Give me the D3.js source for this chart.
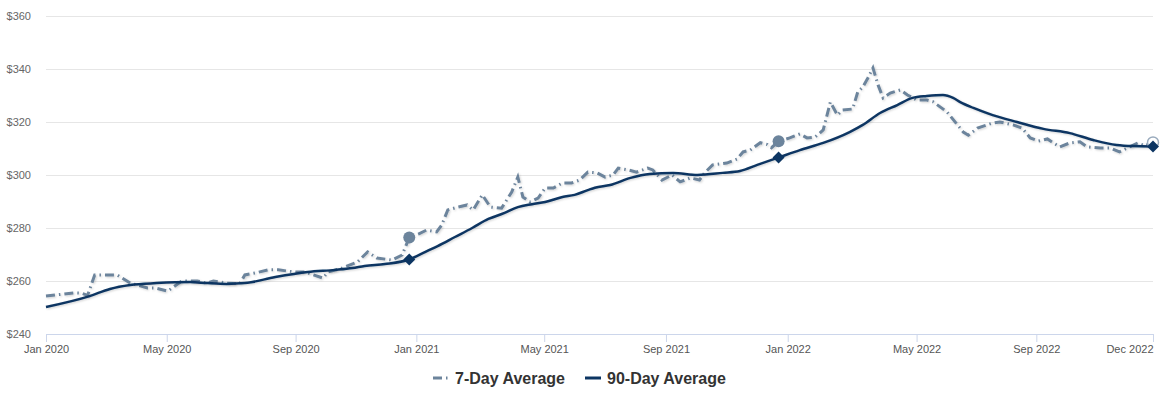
<!DOCTYPE html>
<html>
<head>
<meta charset="utf-8">
<script src="https://cdn.jsdelivr.net/npm/d3@7"></script>
<style>
  body { margin: 0; background: #fff; }
  svg { display: block; font-family: "Liberation Sans", Arial, sans-serif; }
</style>
</head>
<body>
<div id="chart"></div>
<script>
// 7-day average (weekly-ish readings)
var dates7 = ["2020-01-01","2020-01-28","2020-02-05","2020-02-11","2020-02-18","2020-03-11","2020-03-24","2020-04-10",
  "2020-04-17","2020-04-30","2020-05-14","2020-05-29","2020-06-08","2020-06-14","2020-06-27","2020-07-10","2020-07-15",
  "2020-07-25","2020-08-07","2020-08-17","2020-09-02","2020-09-12","2020-09-30","2020-10-05","2020-10-19","2020-11-03",
  "2020-11-13","2020-11-22","2020-12-07","2020-12-17","2020-12-24","2021-01-02","2021-01-10","2021-01-20","2021-01-25",
  "2021-01-31","2021-02-10","2021-02-19","2021-02-25","2021-03-06","2021-03-14","2021-03-25","2021-04-04","2021-04-10",
  "2021-04-15","2021-04-22","2021-04-30","2021-05-07","2021-05-15","2021-05-24","2021-06-02","2021-06-10","2021-06-18",
  "2021-06-27","2021-07-05","2021-07-13","2021-07-18","2021-07-28","2021-08-05","2021-08-16","2021-08-21","2021-08-30",
  "2021-09-09","2021-09-17","2021-09-27","2021-10-06","2021-10-11","2021-10-19","2021-11-02","2021-11-12","2021-11-18",
  "2021-11-25","2021-12-05","2021-12-12","2021-12-16","2021-12-23","2022-01-03","2022-01-13","2022-01-20","2022-01-28",
  "2022-02-05","2022-02-12","2022-02-19","2022-02-24","2022-03-06","2022-03-11","2022-03-16","2022-03-21","2022-03-26",
  "2022-03-31","2022-04-05","2022-04-12","2022-04-22","2022-04-29","2022-05-08","2022-05-18","2022-05-24","2022-06-07",
  "2022-06-23","2022-06-28","2022-07-07","2022-07-22","2022-07-29","2022-08-11","2022-08-20","2022-08-28","2022-09-05",
  "2022-09-14","2022-09-26","2022-10-06","2022-10-16","2022-10-23","2022-11-05","2022-11-15","2022-11-24","2022-12-04",
  "2022-12-12","2022-12-19","2022-12-27"];
var avg7 = [254.3,255.5,255.4,254.6,262.3,262.3,259.2,257.4,
  257.4,256.2,260.0,260.0,259.2,260.0,259.2,259.0,262.3,
  263.0,264.2,264.2,263.4,263.4,261.1,263.4,264.9,267.2,
  271.0,268.7,267.9,269.8,276.4,277.7,279.2,278.5,281.1,
  286.8,287.9,288.7,286.8,292.5,287.9,287.5,293.6,299.2,
  291.7,289.8,291.3,295.1,295.1,297.0,297.0,298.1,301.1,
  300.8,299.2,300.0,302.6,301.9,301.1,302.6,301.9,298.1,
  300.0,297.4,298.9,298.1,300.8,303.8,304.5,306.0,308.7,
  309.4,312.2,311.5,310.3,312.7,314.0,315.5,314.0,314.3,
  317.0,327.5,322.6,324.5,324.9,331.3,333.2,336.6,340.4,
  334.0,329.1,330.9,332.1,330.2,328.3,328.3,327.7,323.8,
  316.2,315.0,317.7,319.6,320.0,318.9,317.7,314.0,312.8,
  313.6,310.6,312.1,312.5,310.6,310.2,310.2,308.7,310.6,
  312.1,311.0,312.3];

// 90-day average
var dates90 = ["2020-01-01","2020-02-13","2020-03-04","2020-03-24","2020-04-19","2020-05-22","2020-06-08","2020-06-27",
  "2020-07-15","2020-08-14","2020-09-15","2020-10-12","2020-10-29","2020-11-10","2020-11-30","2020-12-24","2021-01-09",
  "2021-01-21","2021-02-07","2021-02-24","2021-03-12","2021-03-28","2021-04-10","2021-04-24","2021-05-07","2021-05-24",
  "2021-06-05","2021-06-18","2021-06-25","2021-07-10","2021-07-30","2021-08-18","2021-09-10","2021-10-04","2021-10-29",
  "2021-11-15","2021-12-02","2021-12-23","2022-01-13","2022-02-05","2022-03-03","2022-03-16","2022-04-02","2022-04-19",
  "2022-05-04","2022-05-18","2022-06-03","2022-06-13","2022-06-20","2022-07-03","2022-07-22","2022-08-15","2022-09-10",
  "2022-10-06","2022-10-29","2022-11-21","2022-12-07","2022-12-27"];
var avg90 = [250.2,254.3,257.0,258.5,259.2,259.6,259.2,258.9,
  259.2,261.5,263.4,264.2,264.9,265.7,266.4,268.1,271.0,
  273.2,276.6,280.0,283.4,285.7,287.9,289.0,289.8,291.7,
  292.5,294.3,295.2,296.2,298.9,300.4,300.8,300.0,300.8,
  301.5,303.8,306.6,309.4,312.1,316.2,318.9,323.4,326.4,
  329.1,329.8,330.2,329.1,327.5,325.3,322.6,320.0,317.4,
  315.8,313.2,311.3,310.9,310.8];

var markerDates = ["2020-12-24", "2021-12-23", "2022-12-27"];
var tickDates = ["2020-01-01","2020-04-29","2020-09-03","2020-12-31","2021-05-06","2021-09-03","2022-01-01","2022-05-08","2022-09-03","2022-12-27"];
var tickLabels = ["Jan 2020","May 2020","Sep 2020","Jan 2021","May 2021","Sep 2021","Jan 2022","May 2022","Sep 2022","Dec 2022"];
var yTicks = [240, 260, 280, 300, 320, 340, 360];
var seriesNames = ["7-Day Average", "90-Day Average"];

var color7 = "#6c849c", color90 = "#0c3562";

var svgWidth = 1167, svgHeight = 394;
var margin = {top: 16, right: 14, bottom: 60, left: 46};
var width = svgWidth - margin.left - margin.right;
var height = svgHeight - margin.top - margin.bottom;

var parse = d3.timeParse("%Y-%m-%d");
var data7 = dates7.map(function(d, i) { return {date: parse(d), value: avg7[i], key: d}; });
var data90 = dates90.map(function(d, i) { return {date: parse(d), value: avg90[i], key: d}; });

var svg = d3.select("#chart").append("svg")
  .attr("width", svgWidth)
  .attr("height", svgHeight);

var defs = svg.append("defs");
defs.append("filter").attr("id", "shadow")
  .attr("x", "-5%").attr("y", "-20%").attr("width", "110%").attr("height", "140%")
  .append("feDropShadow")
  .attr("dx", 1).attr("dy", 1).attr("stdDeviation", 1)
  .attr("flood-color", "#000").attr("flood-opacity", 0.18);

var chartGroup = svg.append("g")
  .attr("transform", `translate(${margin.left}, ${margin.top})`);

var x = d3.scaleTime()
  .domain([parse("2020-01-01"), parse("2022-12-27")])
  .range([0, width]);

var y = d3.scaleLinear()
  .domain([240, 360])
  .range([height, 0]);

// gridlines + y labels
var yAxis = chartGroup.append("g")
  .call(d3.axisLeft(y).tickValues(yTicks).tickSize(-width).tickFormat(function(d) { return "$" + d; }));
yAxis.select(".domain").remove();
yAxis.selectAll(".tick line").attr("stroke", "#e6e6e6").attr("stroke-width", 1);
yAxis.selectAll(".tick text")
  .attr("x", -15)
  .attr("fill", "#666")
  .style("font-size", "11px")
  .style("font-family", "'Liberation Sans', Arial, sans-serif");

// x axis
var xAxis = chartGroup.append("g")
  .attr("transform", `translate(0, ${height})`)
  .call(d3.axisBottom(x)
    .tickValues(tickDates.map(parse))
    .tickSize(8)
    .tickSizeOuter(0)
    .tickFormat(function(d, i) { return tickLabels[i]; }));
xAxis.select(".domain").attr("stroke", "#ccd6eb");
xAxis.selectAll(".tick line").attr("stroke", "#ccd6eb");
xAxis.selectAll(".tick text")
  .attr("fill", "#555")
  .attr("y", 11)
  .style("font-size", "11px")
  .style("font-family", "'Liberation Sans', Arial, sans-serif");
xAxis.selectAll(".tick text").filter(function(d, i) { return i === tickDates.length - 1; })
  .attr("text-anchor", "end");

var line = d3.line()
  .x(function(d) { return x(d.date); })
  .y(function(d) { return y(d.value); });

// 7-day line
chartGroup.append("path")
  .datum(data7)
  .attr("fill", "none")
  .attr("stroke", color7)
  .attr("stroke-width", 3)
  .attr("stroke-dasharray", "9,4,1.5,4")
  .attr("filter", "url(#shadow)")
  .attr("d", line);

// 90-day line
chartGroup.append("path")
  .datum(data90)
  .attr("fill", "none")
  .attr("stroke", color90)
  .attr("stroke-width", 2.5)
  .attr("filter", "url(#shadow)")
  .attr("d", line.curve(d3.curveMonotoneX));

// markers on 7-day
var marks7 = data7.filter(function(d) { return markerDates.indexOf(d.key) >= 0; });
chartGroup.append("g").selectAll("circle")
  .data(marks7)
  .enter()
  .append("circle")
  .attr("cx", function(d) { return x(d.date); })
  .attr("cy", function(d) { return y(d.value); })
  .attr("r", function(d, i) { return i === marks7.length - 1 ? 5.5 : 6; })
  .attr("fill", function(d, i) { return i === marks7.length - 1 ? "#fff" : color7; })
  .attr("stroke", function(d, i) { return i === marks7.length - 1 ? "#9aabbd" : "none"; })
  .attr("stroke-width", 1.5);

// diamonds on 90-day
var marks90 = data90.filter(function(d) { return markerDates.indexOf(d.key) >= 0; });
chartGroup.append("g").selectAll("path")
  .data(marks90)
  .enter()
  .append("path")
  .attr("d", "M0,-6L6,0L0,6L-6,0Z")
  .attr("transform", function(d) { return `translate(${x(d.date)}, ${y(d.value)})`; })
  .attr("fill", color90);

// legend
var legend = svg.append("g").attr("transform", "translate(0, 378)");
var legendItems = [
  {name: seriesNames[0], x: 433, color: color7, dash: "9,4,1.5,4"},
  {name: seriesNames[1], x: 585, color: color90, dash: null}
];
legendItems.forEach(function(item) {
  legend.append("line")
    .attr("x1", item.x).attr("x2", item.x + 16)
    .attr("y1", 0).attr("y2", 0)
    .attr("stroke", item.color)
    .attr("stroke-width", 3)
    .attr("stroke-dasharray", item.dash);
  legend.append("text")
    .attr("x", item.x + 22)
    .attr("y", 6)
    .attr("fill", "#333")
    .style("font-size", "16px")
    .style("font-weight", "bold")
    .text(item.name);
});
</script>
</body>
</html>
